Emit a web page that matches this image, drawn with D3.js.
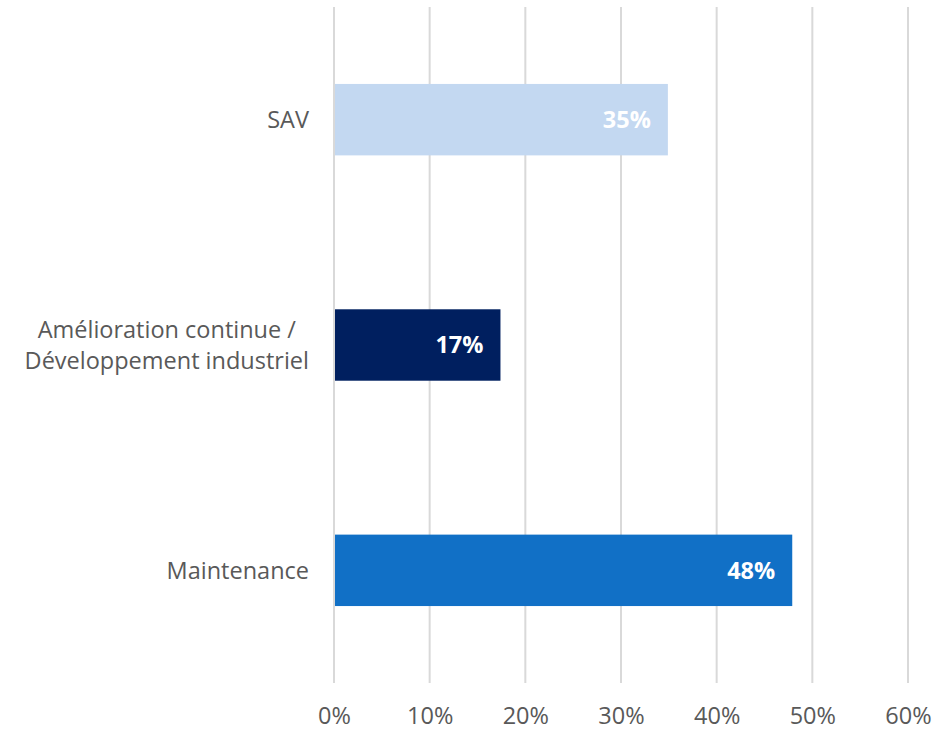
<!DOCTYPE html>
<html>
<head>
<meta charset="utf-8">
<script src="https://cdn.jsdelivr.net/npm/d3@7"></script>
<style>
    body { margin: 0; background: #fff; }
    text { font-family: "Open Sans", sans-serif; }
</style>
</head>
<body>
<div id="chart"></div>
<script>
// data
const categories = ["SAV", "Amélioration continue /\nDéveloppement industriel", "Maintenance"];
const values = [34.9, 17.4, 47.9];
const barColors = ["#c3d8f1", "#001f5f", "#1170c6"];
const xTicks = [0, 10, 20, 30, 40, 50, 60];

const margin = { top: 7, right: 43, bottom: 47, left: 334 };
const width = 951 - margin.left - margin.right;
const height = 730 - margin.top - margin.bottom;

const svg = d3.select("#chart").append("svg")
    .attr("width", 951)
    .attr("height", 730);

const g = svg.append("g")
    .attr("transform", `translate(${margin.left},${margin.top})`);

const x = d3.scaleLinear()
    .domain([0, 60])
    .range([0, 574]);

const y = d3.scaleBand()
    .domain(categories)
    .range([0, height])
    .paddingInner(0.683)
    .paddingOuter(0.683 / 2);

// gridlines
g.selectAll(".grid")
    .data(xTicks)
    .enter().append("line")
    .attr("class", "grid")
    .attr("x1", d => x(d))
    .attr("x2", d => x(d))
    .attr("y1", 0)
    .attr("y2", height)
    .attr("stroke", "#d9d9d9")
    .attr("stroke-width", 2);

// x axis labels
const xAxis = d3.axisBottom(x)
    .tickValues(xTicks)
    .tickFormat(d => d + "%")
    .tickSize(0)
    .tickPadding(24);

g.append("g")
    .attr("transform", `translate(0,${height})`)
    .call(xAxis)
    .call(a => a.select(".domain").remove())
    .selectAll("text")
    .attr("fill", "#595959")
    .style("font-size", "23.5px");

// bars
g.selectAll(".bar")
    .data(values)
    .enter().append("rect")
    .attr("class", "bar")
    .attr("x", x(0) + 1)
    .attr("y", (d, i) => y(categories[i]))
    .attr("width", d => x(d) - 1)
    .attr("height", y.bandwidth())
    .attr("fill", (d, i) => barColors[i]);

// value labels
g.selectAll(".val")
    .data(values)
    .enter().append("text")
    .attr("class", "val")
    .attr("x", d => x(d) - 17)
    .attr("y", (d, i) => y(categories[i]) + y.bandwidth() / 2)
    .attr("dy", "0.35em")
    .attr("text-anchor", "end")
    .attr("fill", "#fff")
    .style("font-size", "23.5px")
    .style("font-weight", "bold")
    .text(d => Math.round(d) + "%");

// category labels (multi-line, centred block, right-aligned to axis)
categories.forEach(c => {
    const lines = c.split("\n");
    const cy = y(c) + y.bandwidth() / 2;
    const lh = 31;
    const t = g.append("text")
        .attr("fill", "#595959")
        .attr("text-anchor", "middle")
        .style("font-size", "23.5px");
    lines.forEach((ln, i) => {
        t.append("tspan")
            .attr("y", cy + (i - (lines.length - 1) / 2) * lh)
            .attr("dy", "0.35em")
            .text(ln);
    });
    const maxW = d3.max(t.selectAll("tspan").nodes(), n => n.getComputedTextLength());
    t.selectAll("tspan").attr("x", -25 - maxW / 2);
});
</script>
</body>
</html>
